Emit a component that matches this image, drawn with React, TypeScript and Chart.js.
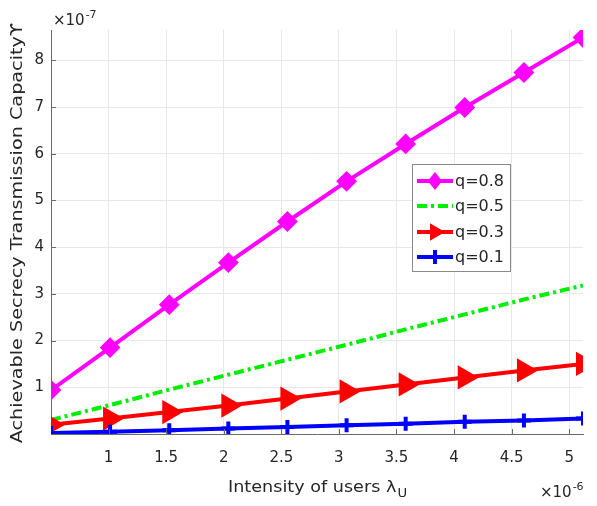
import React, { useEffect, useRef } from "react";
import { Chart, registerables } from "chart.js";

Chart.register(...registerables);

// x values in units of 1e-6, y values in units of 1e-7
const lambdaU = [0.5, 1.013, 1.527, 2.04, 2.553, 3.067, 3.58, 4.093, 4.607, 5.12];
const q08 = [0.94, 1.85, 2.77, 3.67, 4.55, 5.41, 6.21, 6.99, 7.74, 8.49];
const q05 = [0.3, 0.62, 0.95, 1.27, 1.59, 1.91, 2.24, 2.56, 2.88, 3.18];
const q03 = [0.2, 0.33, 0.47, 0.61, 0.76, 0.91, 1.06, 1.21, 1.36, 1.5];
const q01 = [0.02, 0.05, 0.08, 0.12, 0.15, 0.19, 0.22, 0.26, 0.29, 0.33];
const xTicks = [1, 1.5, 2, 2.5, 3, 3.5, 4, 4.5, 5];
const yTicks = [1, 2, 3, 4, 5, 6, 7, 8];
const seriesLabels = ["q=0.8", "q=0.5", "q=0.3", "q=0.1"];

const FONT = "'DejaVu Sans', 'Liberation Sans', sans-serif";
const TEXT = "#262626";
const AXIS = "#6a6a6a";
const COLORS = ["#ff00ff", "#00ee00", "#ff0000", "#0000ff"];

function drawMarker(ctx: CanvasRenderingContext2D, kind: number, x: number, y: number) {
  ctx.save();
  ctx.setLineDash([]);
  const c = COLORS[kind];
  ctx.strokeStyle = c;
  ctx.fillStyle = c;
  if (kind === 0) {
    const r = 9;
    ctx.beginPath();
    ctx.moveTo(x, y - r);
    ctx.lineTo(x + r * 0.8, y);
    ctx.lineTo(x, y + r);
    ctx.lineTo(x - r * 0.8, y);
    ctx.closePath();
    ctx.fill();
  } else if (kind === 2) {
    const r = 10;
    ctx.beginPath();
    ctx.moveTo(x + r, y);
    ctx.lineTo(x - r * 0.5, y - r * 0.87);
    ctx.lineTo(x - r * 0.5, y + r * 0.87);
    ctx.closePath();
    ctx.fill();
  } else if (kind === 3) {
    const r = 7;
    ctx.lineWidth = 4;
    ctx.beginPath();
    ctx.moveTo(x - r, y);
    ctx.lineTo(x + r, y);
    ctx.moveTo(x, y - r);
    ctx.lineTo(x, y + r);
    ctx.stroke();
  }
  ctx.restore();
}

const decorPlugin = {
  id: "decor",
  afterDraw(chart: any) {
    const ctx: CanvasRenderingContext2D = chart.ctx;
    const area = chart.chartArea;
    const xs = chart.scales.x;
    const ys = chart.scales.y;
    ctx.save();
    // inward ticks
    ctx.strokeStyle = AXIS;
    ctx.lineWidth = 1;
    ctx.beginPath();
    for (const v of yTicks) {
      const py = Math.round(ys.getPixelForValue(v)) + 0.5;
      ctx.moveTo(area.left, py);
      ctx.lineTo(area.left + 5, py);
    }
    for (const v of xTicks) {
      const px = Math.round(xs.getPixelForValue(v)) + 0.5;
      ctx.moveTo(px, area.bottom);
      ctx.lineTo(px, area.bottom - 5);
    }
    ctx.stroke();

    ctx.fillStyle = TEXT;
    // y title
    ctx.save();
    ctx.translate(18, (area.top + area.bottom) / 2 + 1);
    ctx.rotate(-Math.PI / 2);
    ctx.scale(1.2, 1);
    ctx.font = `16px ${FONT}`;
    ctx.textAlign = "center";
    ctx.textBaseline = "middle";
    ctx.fillText("Achievable Secrecy Transmission Capacity\u03D2", 0, 0);
    ctx.restore();

    // x title with subscript
    ctx.save();
    const cx = (area.left + area.right) / 2;
    ctx.translate(cx, 0);
    ctx.scale(1.1, 1);
    const main = "Intensity of users \u03BB";
    ctx.font = `16px ${FONT}`;
    const w1 = ctx.measureText(main).width;
    ctx.font = `12px ${FONT}`;
    const w2 = ctx.measureText("U").width;
    const sx = -(w1 + w2) / 2;
    ctx.textAlign = "left";
    ctx.textBaseline = "alphabetic";
    ctx.font = `16px ${FONT}`;
    ctx.fillText(main, sx, 492);
    ctx.font = `12px ${FONT}`;
    ctx.fillText("U", sx + w1 + 1, 497);
    ctx.restore();

    // exponent labels
    const drawExp = (x: number, y: number, exp: string) => {
      ctx.font = `15px ${FONT}`;
      ctx.textAlign = "left";
      ctx.textBaseline = "alphabetic";
      ctx.fillText("\u00D710", x, y);
      const w = ctx.measureText("\u00D710").width;
      ctx.font = `11px ${FONT}`;
      ctx.fillText(exp, w + x + 1, y - 7);
    };
    drawExp(53, 25, "-7");
    drawExp(540, 497, "-6");

    // legend
    const lx = 412.5, ly = 164.5, lw = 98, lh = 107;
    ctx.fillStyle = "#ffffff";
    ctx.fillRect(lx, ly, lw, lh);
    ctx.strokeStyle = "#8a8a8a";
    ctx.lineWidth = 1;
    ctx.strokeRect(lx, ly, lw, lh);
    const rowY = [181, 206, 232, 257];
    for (let i = 0; i < 4; i++) {
      const y = rowY[i];
      ctx.save();
      ctx.strokeStyle = COLORS[i];
      ctx.lineWidth = 4;
      if (i === 1) ctx.setLineDash([10, 4, 3, 4]);
      ctx.beginPath();
      ctx.moveTo(417, y);
      ctx.lineTo(453, y);
      ctx.stroke();
      ctx.restore();
      drawMarker(ctx, i, 435, y);
      ctx.fillStyle = TEXT;
      ctx.font = `16px ${FONT}`;
      ctx.textAlign = "left";
      ctx.textBaseline = "middle";
      ctx.fillText(seriesLabels[i], 455, y + 1);
    }
    ctx.restore();
  },
};

export default function App() {
  const ref = useRef<HTMLCanvasElement | null>(null);
  useEffect(() => {
    if (!ref.current) return;
    const mk = (arr: number[]) => lambdaU.map((x, i) => ({ x, y: arr[i] }));
    const chart = new Chart(ref.current, {
      type: "line",
      data: {
        datasets: [
          {
            label: seriesLabels[0],
            data: mk(q08),
            borderColor: COLORS[0],
            backgroundColor: COLORS[0],
            borderWidth: 4,
            pointStyle: "rectRot",
            pointRadius: 9,
            pointBorderWidth: 2,
            pointBackgroundColor: COLORS[0],
            order: 3,
          },
          {
            label: seriesLabels[1],
            data: mk(q05),
            borderColor: COLORS[1],
            borderWidth: 4,
            borderDash: [10, 4, 3, 4],
            pointRadius: 0,
            order: 2,
          },
          {
            label: seriesLabels[2],
            data: mk(q03),
            borderColor: COLORS[2],
            backgroundColor: COLORS[2],
            borderWidth: 4,
            pointStyle: "triangle",
            pointRotation: 90,
            pointRadius: 10,
            pointBackgroundColor: COLORS[2],
            order: 1,
          },
          {
            label: seriesLabels[3],
            data: mk(q01),
            borderColor: COLORS[3],
            backgroundColor: COLORS[3],
            borderWidth: 4,
            pointStyle: "cross",
            pointRadius: 7,
            pointBorderWidth: 4,
            order: 0,
          },
        ],
      },
      options: {
        animation: false,
        responsive: false,
        layout: { padding: { left: 0, top: 30, right: 12, bottom: 0 } },
        plugins: { legend: { display: false }, tooltip: { enabled: false } },
        elements: { line: { tension: 0 } },
        scales: {
          x: {
            type: "linear",
            min: 0.5,
            max: 5.12,
            afterBuildTicks: (s: any) => {
              s.ticks = xTicks.map((v) => ({ value: v }));
            },
            afterFit: (s: any) => {
              s.height = 72;
            },
            ticks: {
              autoSkip: false,
              maxRotation: 0,
              padding: 15,
              color: TEXT,
              font: { family: FONT, size: 15 },
              callback: (v: any) => String(v),
            },
            grid: { color: "#e8e8e8", drawTicks: false },
            border: { color: AXIS, width: 1 },
          },
          y: {
            type: "linear",
            min: 0,
            max: 8.65,
            afterBuildTicks: (s: any) => {
              s.ticks = yTicks.map((v) => ({ value: v }));
            },
            afterFit: (s: any) => {
              s.width = 51;
            },
            ticks: {
              padding: 7,
              color: TEXT,
              font: { family: FONT, size: 15 },
              callback: (v: any) => String(v),
            },
            grid: { color: "#e8e8e8", drawTicks: false },
            border: { color: AXIS, width: 1 },
          },
        },
      },
      plugins: [decorPlugin],
    } as any);
    return () => chart.destroy();
  }, []);
  return (
    <div style={{ position: "fixed", left: 0, top: 0, width: 597, height: 506, background: "#fff" }}>
      <canvas ref={ref} width={597} height={506} style={{ display: "block" }} />
    </div>
  );
}
